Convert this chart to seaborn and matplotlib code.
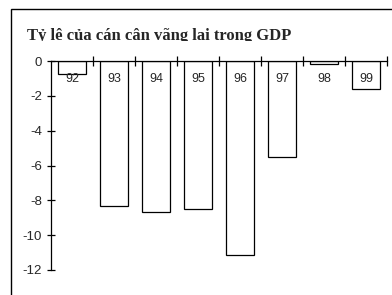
import matplotlib
matplotlib.use("Agg")
import matplotlib.pyplot as plt
import matplotlib.patches as mpatches
import seaborn as sns
import pandas as pd

years = ["92", "93", "94", "95", "96", "97", "98", "99"]
values = [-0.76, -8.3, -8.65, -8.5, -11.15, -5.5, -0.2, -1.63]
yticks = [0, -2, -4, -6, -8, -10, -12]
title = "Tỷ lệ của cán cân vãng lai trong GDP"

sns.set_style("white")
plt.rcParams['font.family'] = ['Liberation Sans', 'DejaVu Sans']

df = pd.DataFrame({"year": years, "value": values})

fig = plt.figure(figsize=(3.92, 2.95), dpi=100)
ax = fig.add_axes([51/392, 1 - 270/295, (387 - 51)/392, (270 - 61)/295])

sns.barplot(data=df, x="year", y="value", ax=ax, color="white",
            edgecolor="black", linewidth=0.9, width=0.66, saturation=1)

ax.set_ylim(-12, 0)
ax.set_xlim(-0.5, len(years) - 0.5)
ax.set_xlabel("")
ax.set_ylabel("")

for s in ["right", "bottom"]:
    ax.spines[s].set_visible(False)
for s in ["left", "top"]:
    ax.spines[s].set_visible(True)
    ax.spines[s].set_color("black")
    ax.spines[s].set_linewidth(0.9)

ax.set_yticks(yticks)
ax.set_yticklabels([str(t) for t in yticks], fontsize=9.5)
ax.tick_params(axis="y", direction="inout", length=6, width=0.9, left=True,
               color="black", pad=3.5)

ax.xaxis.tick_top()
ax.set_xticks([i + 0.5 for i in range(len(years))])
ax.set_xticklabels([])
ax.tick_params(axis="x", direction="inout", length=6.5, width=0.9, top=True,
               bottom=False, color="black")

for i, y in enumerate(years):
    ax.text(i, -1.06, y, ha="center", va="center", fontsize=9)

t = fig.text(27/392, 1 - 40.5/295, title, fontsize=12, fontweight="bold",
             family=["Liberation Serif", "DejaVu Serif"], ha="left",
             va="baseline")
clip = mpatches.Rectangle((0, 1 - 41/295), 1, 41/295,
                          transform=fig.transFigure, visible=False)
fig.patches.append(clip)
t.set_clip_path(clip)

rect = mpatches.Rectangle((11/392, -0.2), 1.2, 1.2 - 9/295,
                          transform=fig.transFigure, fill=False,
                          edgecolor="black", linewidth=1.0)
fig.patches.append(rect)

fig.savefig("out.png", dpi=100)
